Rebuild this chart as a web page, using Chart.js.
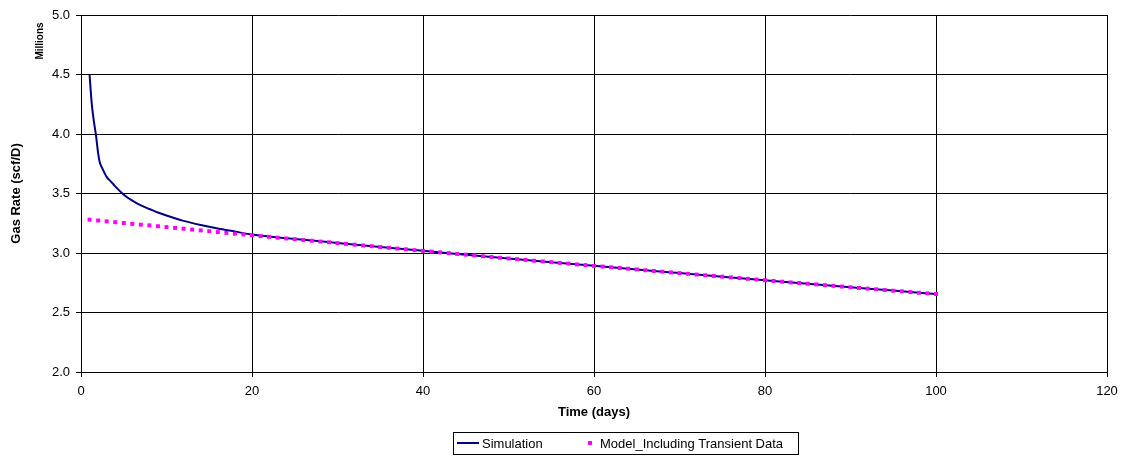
<!DOCTYPE html>
<html>
<head>
<meta charset="utf-8">
<script src="https://cdn.jsdelivr.net/npm/chart.js@4/dist/chart.umd.min.js"></script>
<style>
  html, body { margin: 0; padding: 0; background: #fff; }
  #wrap { width: 1123px; height: 461px; }
</style>
</head>
<body>
<div id="wrap"><canvas id="rateChart" width="1123" height="461"></canvas></div>
<script>
// simulated gas rate, millions scf/D
var simDays = [1, 1.25, 1.5, 1.75, 2, 2.2, 2.5, 3, 3.5, 4, 5, 6, 7, 8, 9, 10, 12, 14, 16, 18, 20,
  25, 30, 35, 40, 45, 50, 55, 60, 65, 70, 75, 80, 85, 90, 95, 100];
var simRate = [4.50, 4.26, 4.11, 3.99, 3.84, 3.76, 3.71, 3.64, 3.60, 3.56, 3.49, 3.44, 3.40, 3.37, 3.34, 3.315, 3.27, 3.235, 3.205, 3.18, 3.155,
  3.118, 3.085, 3.051, 3.018, 2.986, 2.954, 2.923, 2.892, 2.861, 2.831, 2.801, 2.771, 2.741, 2.712, 2.684, 2.655];

// model including transient data, one value per day (day 1..100)
var modelRate = [
  3.280, 3.273, 3.266, 3.259, 3.252, 3.245, 3.238, 3.232, 3.225, 3.218,
  3.211, 3.204, 3.197, 3.190, 3.183, 3.176, 3.169, 3.162, 3.156, 3.149,
  3.142, 3.136, 3.129, 3.122, 3.116, 3.109, 3.103, 3.096, 3.090, 3.083,
  3.077, 3.070, 3.063, 3.057, 3.050, 3.044, 3.037, 3.031, 3.024, 3.018,
  3.012, 3.005, 2.999, 2.992, 2.986, 2.980, 2.973, 2.967, 2.960, 2.954,
  2.948, 2.942, 2.935, 2.929, 2.923, 2.917, 2.911, 2.904, 2.898, 2.892,
  2.886, 2.880, 2.874, 2.868, 2.862, 2.855, 2.849, 2.843, 2.837, 2.831,
  2.825, 2.819, 2.813, 2.807, 2.801, 2.795, 2.789, 2.783, 2.777, 2.771,
  2.765, 2.759, 2.753, 2.748, 2.742, 2.736, 2.730, 2.724, 2.718, 2.712,
  2.706, 2.701, 2.695, 2.689, 2.683, 2.678, 2.672, 2.666, 2.661, 2.655
];

var seriesNames = ['Simulation', 'Model_Including Transient Data'];
var xTitle = 'Time (days)';
var yTitle = 'Gas Rate (scf/D)';
var yUnit = 'Millions';

var simPoints = [];
for (var i = 0; i < simDays.length; i++) {
  simPoints.push({x: simDays[i], y: simRate[i]});
}
var modelPoints = [];
for (var j = 0; j < modelRate.length; j++) {
  modelPoints.push({x: j + 1, y: modelRate[j]});
}

var FONT = 'Liberation Sans, Arial, sans-serif';

// "Millions" unit label and the boxed legend under the axis title
var extras = {
  id: 'extras',
  afterDraw: function(chart) {
    var ctx = chart.ctx;
    ctx.save();
    ctx.fillStyle = '#000';
    ctx.font = 'bold 10px ' + FONT;
    ctx.textAlign = 'center';
    ctx.textBaseline = 'middle';
    ctx.translate(40, 41);
    ctx.rotate(-Math.PI / 2);
    ctx.fillText(yUnit, 0, 0);
    ctx.restore();

    var bx = 453, by = 432, bw = 345, bh = 22;
    var cy = by + bh / 2;
    ctx.save();
    ctx.strokeStyle = '#000';
    ctx.lineWidth = 1;
    ctx.strokeRect(bx + 0.5, by + 0.5, bw, bh);
    ctx.strokeStyle = '#000080';
    ctx.lineWidth = 2;
    ctx.beginPath();
    ctx.moveTo(bx + 4, cy);
    ctx.lineTo(bx + 26, cy);
    ctx.stroke();
    ctx.fillStyle = '#000';
    ctx.font = '13px ' + FONT;
    ctx.textAlign = 'left';
    ctx.textBaseline = 'middle';
    ctx.fillText(seriesNames[0], bx + 29, cy + 1);
    ctx.fillStyle = '#FF00FF';
    ctx.fillRect(bx + 135, cy - 2, 4, 4);
    ctx.fillStyle = '#000';
    ctx.fillText(seriesNames[1], bx + 147, cy + 1);
    ctx.restore();
  }
};

var ctx = document.getElementById('rateChart');
var rateChart = new Chart(ctx, {
  type: 'scatter',
  data: {
    datasets: [{
      label: seriesNames[0],
      data: simPoints,
      showLine: true,
      borderColor: '#000080',
      backgroundColor: '#000080',
      borderWidth: 2,
      pointRadius: 0,
      cubicInterpolationMode: 'monotone',
      order: 2
    }, {
      label: seriesNames[1],
      data: modelPoints,
      showLine: false,
      pointStyle: 'rect',
      pointRadius: 2.8,
      borderWidth: 0,
      backgroundColor: '#FF00FF',
      borderColor: '#FF00FF',
      order: 1
    }]
  },
  options: {
    responsive: false,
    animation: false,
    layout: { padding: { left: 0, right: 16, top: 15, bottom: 37 } },
    plugins: {
      legend: { display: false },
      tooltip: { enabled: false }
    },
    scales: {
      x: {
        type: 'linear',
        min: 0,
        max: 120,
        ticks: {
          stepSize: 20,
          color: '#000',
          padding: 7,
          maxRotation: 0,
          font: { family: FONT, size: 13 }
        },
        grid: { color: '#000', lineWidth: 1, tickLength: 5, tickColor: '#000' },
        border: { color: '#000', width: 1 },
        title: {
          display: true,
          text: xTitle,
          color: '#000',
          padding: { top: 4, bottom: 4 },
          font: { family: FONT, size: 13, weight: 'bold' }
        },
        afterFit: function(scale) {
          scale.height = 52;
          scale.paddingRight = 0;
        }
      },
      y: {
        min: 2,
        max: 5,
        ticks: {
          stepSize: 0.5,
          color: '#000',
          padding: 6,
          font: { family: FONT, size: 13 },
          callback: function(v) { return v.toFixed(1); }
        },
        grid: { color: '#000', lineWidth: 1, tickLength: 5, tickColor: '#000' },
        border: { color: '#000', width: 1 },
        title: {
          display: true,
          text: yTitle,
          color: '#000',
          padding: { top: 9, bottom: 4 },
          font: { family: FONT, size: 13, weight: 'bold' }
        },
        afterFit: function(scale) { scale.width = 81; }
      }
    }
  },
  plugins: [extras]
});
</script>
</body>
</html>
